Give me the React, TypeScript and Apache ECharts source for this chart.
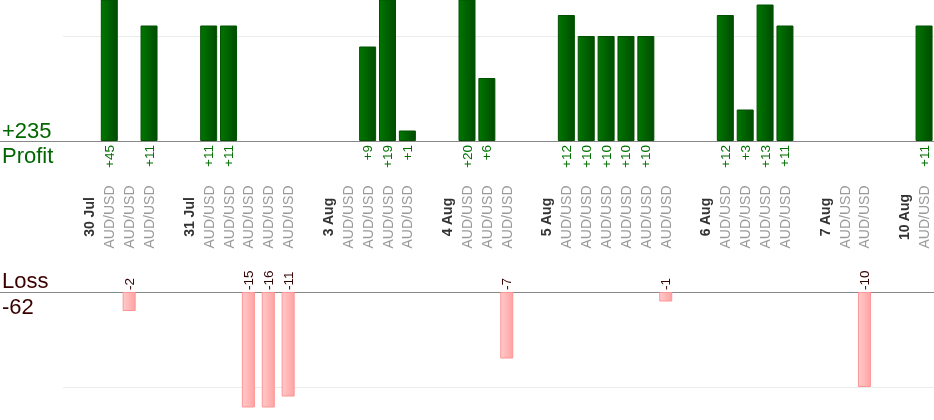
import { useEffect, useRef } from "react";
import * as echarts from "echarts";

const categories: string[] = [
  "", "", "", "",
  "30 Jul", "AUD/USD", "AUD/USD", "AUD/USD", "",
  "31 Jul", "AUD/USD", "AUD/USD", "AUD/USD", "AUD/USD", "AUD/USD", "",
  "3 Aug", "AUD/USD", "AUD/USD", "AUD/USD", "AUD/USD", "",
  "4 Aug", "AUD/USD", "AUD/USD", "AUD/USD", "",
  "5 Aug", "AUD/USD", "AUD/USD", "AUD/USD", "AUD/USD", "AUD/USD", "AUD/USD", "",
  "6 Aug", "AUD/USD", "AUD/USD", "AUD/USD", "AUD/USD", "",
  "7 Aug", "AUD/USD", "AUD/USD", "",
  "10 Aug", "AUD/USD",
];

const profit: (number | null)[] = [
  null, null, null, null,
  null, 45, null, 11, null,
  null, 11, 11, null, null, null, null,
  null, null, 9, 19, 1, null,
  null, 20, 6, null, null,
  null, 12, 10, 10, 10, 10, null, null,
  null, 12, 3, 13, 11, null,
  null, null, null, null,
  null, 11,
];

const loss: (number | null)[] = [
  null, null, null, null,
  null, null, -2, null, null,
  null, null, null, -15, -16, -11, null,
  null, null, null, null, null, null,
  null, null, null, -7, null,
  null, null, null, null, null, null, -1, null,
  null, null, null, null, null, null,
  null, null, -10, null,
  null, null,
];

const profitAxisMax = 13.43;
const lossAxisMin = -12.1;
const gridStep = 10;

const FONT = '"Liberation Sans", Arial, sans-serif';

export default function App() {
  const ref = useRef<HTMLDivElement>(null);

  useEffect(() => {
    if (!ref.current) return;
    const chart = echarts.init(ref.current, null, { renderer: "svg" });

    const totalProfit = profit.reduce((s: number, v) => s + (v ?? 0), 0);
    const totalLoss = loss.reduce((s: number, v) => s + (v ?? 0), 0);

    const catData = categories.map((c) =>
      c !== "" && c !== "AUD/USD"
        ? {
            value: c,
            textStyle: {
              fontWeight: "bold",
              color: "#333333",
              fontSize: 14,
              align: "center",
              verticalAlign: "middle",
              fontFamily: FONT,
            },
          }
        : c
    );

    const hiddenValueX = { type: "value", show: false, min: 0, max: 1 };
    const splitY = {
      type: "value",
      axisLine: { show: false },
      axisTick: { show: false },
      axisLabel: { show: false },
      splitLine: {
        show: true,
        showMinLine: false,
        showMaxLine: false,
        lineStyle: { color: "#ebebeb", width: 1 },
      },
    };

    chart.setOption({
      animation: false,
      textStyle: { fontFamily: FONT },
      grid: [
        { left: 0, right: 0, top: 0, height: 141 },
        { left: 0, right: 0, top: 292, height: 115 },
        { left: 63, right: 0, top: 0, height: 141 },
        { left: 63, right: 0, top: 292, height: 115 },
      ],
      xAxis: [
        {
          gridIndex: 0,
          type: "category",
          data: catData,
          position: "bottom",
          axisLine: { show: true, lineStyle: { color: "#888888", width: 1 } },
          axisTick: { show: false },
          splitLine: { show: false },
          axisLabel: {
            interval: 0,
            rotate: 90,
            align: "center",
            verticalAlign: "middle",
            margin: 76,
            fontSize: 14,
            color: "#9a9a9a",
            fontFamily: FONT,
          },
        },
        {
          gridIndex: 1,
          type: "category",
          data: categories,
          position: "top",
          axisLine: { show: true, lineStyle: { color: "#888888", width: 1 } },
          axisTick: { show: false },
          axisLabel: { show: false },
          splitLine: { show: false },
        },
        { gridIndex: 2, ...hiddenValueX },
        { gridIndex: 3, ...hiddenValueX },
      ],
      yAxis: [
        { gridIndex: 0, type: "value", min: 0, max: profitAxisMax, show: false },
        { gridIndex: 1, type: "value", min: lossAxisMin, max: 0, show: false },
        { gridIndex: 2, ...splitY, min: 0, max: profitAxisMax, interval: gridStep },
        { gridIndex: 3, ...splitY, inverse: true, min: 0, max: -lossAxisMin, interval: gridStep },
      ],
      series: [
        {
          type: "bar",
          xAxisIndex: 0,
          yAxisIndex: 0,
          data: profit,
          barWidth: 17,
          clip: true,
          itemStyle: {
            color: new echarts.graphic.LinearGradient(0, 0, 1, 0, [
              { offset: 0, color: "#007600" },
              { offset: 1, color: "#004c00" },
            ]),
            borderColor: "#005000",
            borderWidth: 1,
          },
          label: {
            show: true,
            position: "bottom",
            distance: 4,
            rotate: 90,
            align: "right",
            verticalAlign: "middle",
            fontSize: 13.5,
            fontFamily: FONT,
            color: "#007000",
            formatter: (p: any) => "+" + p.value,
          },
        },
        {
          type: "bar",
          xAxisIndex: 1,
          yAxisIndex: 1,
          data: loss,
          barWidth: 13,
          clip: true,
          itemStyle: {
            color: new echarts.graphic.LinearGradient(0, 0, 1, 0, [
              { offset: 0, color: "#ffcaca" },
              { offset: 1, color: "#ffa3a3" },
            ]),
            borderColor: "#ff9595",
            borderWidth: 1,
          },
          label: {
            show: true,
            position: "top",
            distance: 2,
            rotate: 90,
            align: "left",
            verticalAlign: "middle",
            fontSize: 13.5,
            fontFamily: FONT,
            color: "#330000",
            formatter: (p: any) => String(p.value),
          },
        },
      ],
      graphic: [
        {
          type: "text",
          x: 2,
          y: 130,
          style: { text: "+" + totalProfit, font: `22px ${FONT}`, fill: "#006600", verticalAlign: "middle" },
        },
        {
          type: "text",
          x: 2,
          y: 155.5,
          style: { text: "Profit", font: `22px ${FONT}`, fill: "#006600", verticalAlign: "middle" },
        },
        {
          type: "text",
          x: 2,
          y: 280,
          style: { text: "Loss", font: `22px ${FONT}`, fill: "#3a0000", verticalAlign: "middle" },
        },
        {
          type: "text",
          x: 2,
          y: 306.5,
          style: { text: String(totalLoss), font: `22px ${FONT}`, fill: "#3a0000", verticalAlign: "middle" },
        },
      ],
    });

    return () => chart.dispose();
  }, []);

  return (
    <div
      ref={ref}
      style={{ position: "fixed", left: 0, top: 0, width: 934, height: 420 }}
    />
  );
}
